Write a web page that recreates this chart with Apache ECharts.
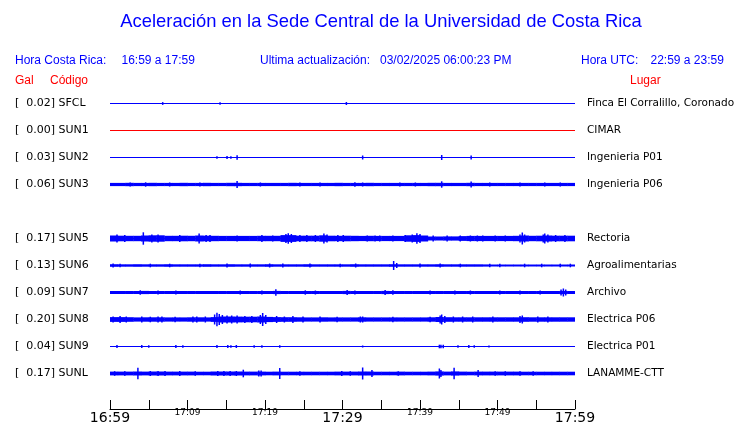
<!DOCTYPE html>
<html><head><meta charset="utf-8">
<script src="https://cdn.jsdelivr.net/npm/echarts@6/dist/echarts.min.js"></script>
<style>html,body{margin:0;padding:0;background:#fff}#c{width:740px;height:423px}</style>
</head><body><div id="c"></div>
<script>
// ---- data ----
const titleText = 'Aceleración en la Sede Central de la Universidad de Costa Rica';
const localRange = '16:59 a 17:59';
const utcRange = '22:59 a 23:59';
const lastUpdate = '03/02/2025 06:00:23 PM';
const rowCodes = ['SFCL','SUN1','SUN2','SUN3','SUN4','SUN5','SUN6','SUN7','SUN8','SUN9','SUNL'];
const galValues = [0.02,0.00,0.03,0.06,null,0.17,0.13,0.09,0.20,0.04,0.17];
const places = ['Finca El Corralillo, Coronado','CIMAR','Ingenieria P01','Ingenieria P06','','Rectoria','Agroalimentarias','Archivo','Electrica P06','Electrica P01','LANAMME-CTT'];
const tickLabels = ['16:59','','17:09','','17:19','','17:29','','17:39','','17:49','','17:59'];
const majorTickLabels = ['16:59','17:29','17:59'];

// envelopes: half amplitude per minute (relative units, 27 = one row spacing)
const envSUN3 = [1.6,1.6,1.7,1.6,1.6,1.7,1.6,1.6,1.6,1.7,1.6,1.6,1.7,1.6,1.6,1.7,1.7,1.6,1.6,1.6,
  1.6,1.6,1.6,1.7,1.6,1.6,1.6,1.6,1.6,1.7,1.6,1.6,1.6,1.7,1.6,1.6,1.6,1.6,1.6,1.6,
  1.6,1.7,1.7,1.6,1.6,1.6,1.7,1.6,1.6,1.6,1.6,1.6,1.6,1.6,1.6,1.6,1.6,1.6,1.6,1.6];
const envSUN5 = [3.0,2.8,2.7,2.7,3.0,3.2,3.2,2.7,2.7,2.8,2.7,3.0,2.8,2.7,2.6,2.6,2.6,2.6,2.6,2.7,
  2.7,2.7,3.4,3.4,2.8,2.8,2.8,3.2,2.8,2.7,2.8,2.7,2.6,2.7,2.6,2.6,2.6,2.6,3.2,3.4,
  3.0,2.0,2.0,2.1,2.1,2.4,2.6,2.6,2.6,2.6,2.6,2.6,2.7,3.0,2.7,2.8,3.0,2.8,2.8,2.8];
const envSUN6 = [1.3,1.2,1.2,1.3,1.2,1.2,1.2,1.3,1.2,1.2,1.2,1.2,1.3,1.2,1.2,1.3,1.2,1.2,1.2,1.2,
  1.3,1.2,1.2,1.2,1.2,1.3,1.2,1.2,1.2,1.2,1.2,1.3,1.2,1.2,1.2,1.2,1.3,1.2,1.2,1.2,
  1.2,1.2,1.3,1.2,1.2,1.2,1.2,1.2,1.1,1.0,1.0,1.0,1.0,1.0,1.0,1.0,1.0,1.0,1.0,1.0];
const envSUN7 = [1.5,1.5,1.5,1.5,1.6,1.5,1.5,1.5,1.5,1.5,1.5,1.5,1.5,1.5,1.5,1.5,1.5,1.5,1.5,1.5,
  1.5,1.6,1.5,1.5,1.5,1.5,1.5,1.5,1.5,1.5,1.6,1.5,1.5,1.5,1.5,1.6,1.5,1.5,1.5,1.5,
  1.5,1.5,1.5,1.5,1.5,1.5,1.5,1.5,1.5,1.5,1.5,1.5,1.5,1.5,1.5,1.5,1.5,1.5,1.6,1.5];
const envSUN8 = [2.4,2.4,2.3,2.1,2.2,2.2,2.2,2.1,2.1,2.1,2.2,2.2,2.1,2.4,3.0,3.0,2.9,2.8,2.8,3.0,
  2.6,2.4,2.3,2.3,2.2,2.1,2.1,2.2,2.1,2.1,2.1,2.1,2.2,2.1,2.1,2.1,2.1,2.1,2.1,2.1,
  2.1,2.2,2.5,2.3,2.2,2.2,2.2,2.2,2.2,2.2,2.2,2.2,2.2,2.3,2.2,2.2,2.2,2.2,2.2,2.2];
const envSUNL = [1.9,1.9,1.9,2.0,1.9,2.0,2.0,1.9,1.9,1.9,1.9,1.8,1.8,2.0,2.0,2.0,2.0,1.9,1.9,1.9,
  1.8,1.9,1.8,1.8,1.8,1.8,1.8,1.8,1.8,1.9,1.9,1.9,2.0,2.0,1.8,1.8,1.8,1.9,1.8,1.8,
  1.8,1.9,2.1,1.9,2.1,1.9,1.8,1.9,1.9,1.9,1.9,1.9,1.9,1.8,1.8,1.8,1.8,1.8,1.8,1.8];

// spikes: [minute, half amplitude]
const spikesSFCL = [[6.8,1.4],[14.2,1.2],[30.5,1.5]];
const spikesSUN1 = [];
const spikesSUN2 = [[13.8,1.3],[15.1,1.6],[15.6,1.2],[16.4,2.2],[32.6,2.0],[42.8,2.5],[46.6,2.0]];
const spikesSUN3 = [[2.6,2.0],[4.6,2.2],[7.7,2.0],[11.6,2.0],[16.4,3.5],[19.4,2.0],[24.5,2.0],[27.1,2.0],
  [31.6,2.2],[32.6,2.0],[37.4,2.0],[39.4,2.0],[42.8,3.2],[46.6,3.0],[49.0,2.0],[52.9,2.0],[56.1,2.0],[58.1,2.0]];
const spikesSUN5 = [[0.9,4],[1.9,3.5],[4.3,6.2],[5.4,4],[6.2,4],[9.0,3.5],[11.5,5],[12.4,3.5],[12.9,3.5],
  [16.4,3],[19.6,3.5],[21.0,3],[22.7,4.5],[23.0,5.2],[23.4,4.5],[24.5,3.5],[25.4,3.5],[26.5,3.5],
  [27.6,5],[28.0,4],[29.4,3.5],[30.1,3.5],[33.2,3],[34.2,3],[34.8,3],[36.5,3],[38.1,3.5],[39.0,4],
  [39.6,5.2],[40.0,4.5],[41.7,3],[43.5,3],[45.2,3],[46.5,3],[47.4,3],[48.1,3],[49.7,3],[51.0,3],
  [52.9,4],[53.2,6],[53.5,4],[55.9,4],[56.1,5],[56.5,4],[57.5,3.5],[58.7,3.5]];
const spikesSUN6 = [[0.4,2],[1.3,1.8],[5.2,1.8],[7.7,1.8],[11.6,1.8],[15.1,2],[18.1,2],[20.6,2],[22.3,2],
  [25.8,2],[29.7,1.8],[31.7,2],[36.6,4.5],[37.0,2.5],[40.0,2],[42.6,2],[45.2,1.8],[49.0,1.8],[50.3,1.8],
  [53.5,1.8],[55.7,1.8],[58.1,1.8],[59.4,1.8]];
const spikesSUN7 = [[3.9,2.2],[6.2,2],[8.5,2],[16.8,2],[19.6,2],[21.4,3.3],[25.2,2.2],[26.5,2],[30.6,2.5],
  [31.6,2],[35.5,2.5],[36.5,2.2],[41.3,2],[44.5,2],[46.5,2],[50.3,2],[52.9,2],[55.5,2],[58.2,3],[58.5,4],[58.8,3]];
const spikesSUN8 = [[0.4,3],[1.3,3.5],[2.1,3],[4.1,3],[5.2,2.8],[6.2,3],[6.7,3],[8.4,2.8],[10.7,3],[11.2,3],
  [12.3,3],[13.5,5],[13.8,6.8],[14.1,5.5],[14.5,4.5],[15.1,4],[15.7,4],[16.4,4],[17.4,3.5],[18.3,3.5],
  [19.4,4.5],[19.7,6.5],[20.1,4.5],[21.5,3.5],[22.5,3],[23.6,3.5],[24.9,3],[27.1,3],[29.3,2.8],[32.3,3],
  [32.6,3],[36.5,2.8],[41.3,2.8],[42.6,4],[42.8,5],[43.2,3.5],[44.3,3],[45.5,3],[46.8,3],[49.4,3],
  [52.9,3.5],[53.2,4],[55.2,3],[56.5,3]];
const spikesSUN9 = [[0.9,1.5],[4.1,1.5],[5.0,1.3],[8.5,1.5],[9.4,1.3],[13.8,1.5],[15.2,1.5],[15.6,1.3],
  [16.3,1.5],[18.6,1.3],[19.6,1.3],[21.9,1.3],[32.6,1.0],[42.5,1.8],[42.7,1.8],[43.0,1.8],[44.9,1.3],
  [46.3,1.5],[47.0,1.3],[48.9,1.0]];
const spikesSUNL = [[0.6,2.3],[1.9,2.3],[3.6,5.8],[5.2,2.5],[6.2,2.5],[7.1,2.5],[9.0,2.5],[11.0,2.3],
  [13.9,2.5],[14.7,2.5],[15.5,2.5],[16.3,2.5],[17.2,3.8],[19.2,3],[19.5,3],[21.9,5.5],[24.5,2.2],
  [29.9,2.5],[31.0,2.2],[32.6,6],[33.8,3.5],[37.2,2.2],[42.5,5],[42.7,3.5],[44.4,5.8],[47.5,3.5],
  [49.7,2.2],[51.0,2.2],[52.9,2.2],[54.6,2.2]];

const traces = {
  SFCL: {env: null, spikes: spikesSFCL},
  SUN1: {env: null, spikes: spikesSUN1},
  SUN2: {env: null, spikes: spikesSUN2},
  SUN3: {env: envSUN3, spikes: spikesSUN3},
  SUN5: {env: envSUN5, spikes: spikesSUN5},
  SUN6: {env: envSUN6, spikes: spikesSUN6},
  SUN7: {env: envSUN7, spikes: spikesSUN7},
  SUN8: {env: envSUN8, spikes: spikesSUN8},
  SUN9: {env: null, spikes: spikesSUN9},
  SUNL: {env: envSUNL, spikes: spikesSUNL}
};

// ---- build ----
const ROW_UNITS = 27;
const SPAN = 60;
const BLUE = '#0000ff', RED = '#ff0000';
const LABEL_FONT = 'DejaVu Sans';
const HEAD_FONT = 'Liberation Sans, Arial, sans-serif';

const series = [];
Object.keys(traces).forEach(code => {
  const row = rowCodes.indexOf(code);
  const tr = traces[code];
  const data = [];
  data.push([0, SPAN, row, 0.5, 0]);
  if (tr.env) tr.env.forEach((a, k) => data.push([k, k + 1, row, a, 0]));
  tr.spikes.forEach(s => data.push([s[0], s[0], row, s[1], 1]));
  series.push({
    type: 'custom',
    name: code,
    coordinateSystem: 'cartesian2d',
    clip: false,
    silent: true,
    animation: false,
    encode: {x: [0, 1], y: 2},
    data: data,
    itemStyle: {color: code === 'SUN1' ? RED : BLUE},
    renderItem: function (params, api) {
      const r = api.value(2);
      const p0 = api.coord([api.value(0), r]);
      const p1 = api.coord([api.value(1), r]);
      const band = api.size([0, 1])[1];
      const h = api.value(3) * band / ROW_UNITS;
      const isSpike = api.value(4) === 1;
      let x0 = p0[0], w = p1[0] - p0[0];
      if (isSpike) { x0 = p0[0] - 0.75; w = 1.5; } else if (api.value(1) < SPAN) { w += 0.4; }
      return {
        type: 'rect',
        shape: {x: x0, y: p0[1] - h, width: w, height: 2 * h},
        style: {fill: api.visual('color')}
      };
    }
  });
});

const chart = echarts.init(document.getElementById('c'), null, {renderer: 'canvas'});
chart.setOption({
  animation: false,
  backgroundColor: '#ffffff',
  grid: {left: 110, right: 165, top: 90, bottom: 36, containLabel: false, outerBoundsMode: 'none'},
  xAxis: {
    type: 'value', min: 0, max: SPAN, interval: 5, offset: 22,
    axisLine: {show: true, lineStyle: {color: '#000', width: 1}},
    axisTick: {show: true, inside: true, length: 9, lineStyle: {color: '#000', width: 1}},
    splitLine: {show: false},
    axisLabel: {
      margin: 0,
      formatter: function (v) {
        const lab = tickLabels[Math.round(v / 5)] || '';
        if (!lab) return '';
        return majorTickLabels.indexOf(lab) >= 0 ? '{b|' + lab + '}' : '{s|' + lab + '}';
      },
      rich: {
        b: {fontFamily: LABEL_FONT, fontSize: 14, lineHeight: 18, color: '#000'},
        s: {fontFamily: LABEL_FONT, fontSize: 9, lineHeight: 7, color: '#000'}
      }
    }
  },
  yAxis: [{
    type: 'category', data: rowCodes, inverse: true, position: 'left',
    axisLine: {show: false}, axisTick: {show: false}, splitLine: {show: false},
    axisLabel: {
      margin: 95, align: 'left', fontFamily: LABEL_FONT, fontSize: 11, color: '#000',
      formatter: function (v, i) {
        const g = galValues[i];
        if (g === null || g === undefined) return '';
        return '[  ' + g.toFixed(2) + '] ' + v;
      }
    }
  }, {
    type: 'category', data: rowCodes, inverse: true, position: 'right',
    axisLine: {show: false}, axisTick: {show: false}, splitLine: {show: false},
    axisLabel: {
      margin: 12, align: 'left', fontFamily: LABEL_FONT, fontSize: 10.5, color: '#000',
      formatter: function (v, i) { return places[i] || ''; }
    }
  }],
  graphic: [
    {type: 'text', x: 381, y: 22, style: {text: titleText, fill: BLUE, font: '18.4px ' + HEAD_FONT, textAlign: 'center', textVerticalAlign: 'middle'}},
    {type: 'text', x: 15, y: 61, style: {text: 'Hora Costa Rica:', fill: BLUE, font: '12px ' + HEAD_FONT, textVerticalAlign: 'middle'}},
    {type: 'text', x: 121.5, y: 61, style: {text: localRange, fill: BLUE, font: '12px ' + HEAD_FONT, textVerticalAlign: 'middle'}},
    {type: 'text', x: 260, y: 61, style: {text: 'Ultima actualización:', fill: BLUE, font: '12px ' + HEAD_FONT, textVerticalAlign: 'middle'}},
    {type: 'text', x: 380, y: 61, style: {text: lastUpdate, fill: BLUE, font: '12px ' + HEAD_FONT, textVerticalAlign: 'middle'}},
    {type: 'text', x: 581, y: 61, style: {text: 'Hora UTC:', fill: BLUE, font: '12px ' + HEAD_FONT, textVerticalAlign: 'middle'}},
    {type: 'text', x: 650.5, y: 61, style: {text: utcRange, fill: BLUE, font: '12px ' + HEAD_FONT, textVerticalAlign: 'middle'}},
    {type: 'text', x: 15, y: 81, style: {text: 'Gal', fill: RED, font: '12px ' + HEAD_FONT, textVerticalAlign: 'middle'}},
    {type: 'text', x: 50, y: 81, style: {text: 'Código', fill: RED, font: '12px ' + HEAD_FONT, textVerticalAlign: 'middle'}},
    {type: 'text', x: 630, y: 81, style: {text: 'Lugar', fill: RED, font: '12px ' + HEAD_FONT, textVerticalAlign: 'middle'}}
  ],
  series: series
});
</script>
</body></html>
